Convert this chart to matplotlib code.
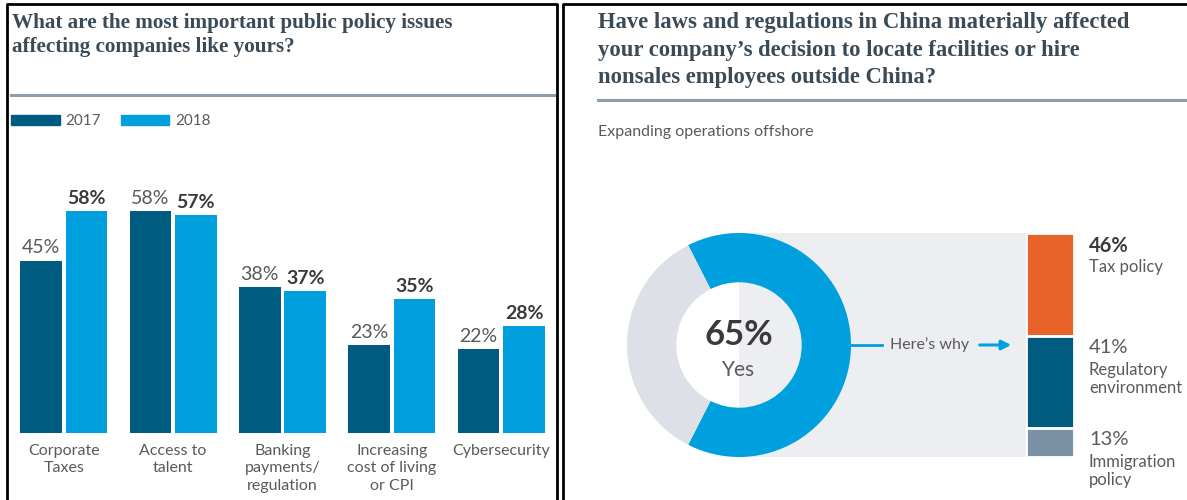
import matplotlib
matplotlib.use("Agg")
import matplotlib.pyplot as plt
from matplotlib.patches import Rectangle, Patch
from matplotlib.transforms import blended_transform_factory

# данные левого графика
categories = ["Corporate\nTaxes", "Access to\ntalent", "Banking\npayments/\nregulation",
              "Increasing\ncost of living\nor CPI", "Cybersecurity"]
values_2017 = [45, 58, 38, 23, 22]
values_2018 = [58, 57, 37, 35, 28]
years = ["2017", "2018"]

# данные правого графика
share_yes = [65, 35]
center_labels = ["65%", "Yes"]
reasons = ["Tax policy", "Regulatory\nenvironment", "Immigration\npolicy"]
reason_values = [46, 41, 13]

C2017 = "#005b80"
C2018 = "#00a0df"
CGRAY = "#dde1e7"
CORANGE = "#e8622a"
CSLATE = "#7b91a5"
TITLE_C = "#3b4a57"
TEXT_C = "#5a5a5a"
BOLD_C = "#3a3a3a"
SANS = ["Lato", "DejaVu Sans"]
SERIF = ["Liberation Serif", "DejaVu Serif"]

W, H = 1187, 500
fig = plt.figure(figsize=(W / 100, H / 100), dpi=100)


def box(x0, y0, x1, y1):
    # пиксели (от левого верхнего угла) -> координаты фигуры
    return [x0 / W, 1 - y1 / H, (x1 - x0) / W, (y1 - y0) / H]


# фон: рамки, линейки, заголовки
bg = fig.add_axes([0, 0, 1, 1])
bg.set_xlim(0, W)
bg.set_ylim(H, 0)
bg.axis("off")
bg.plot([7, 7, 557, 557], [H, 4, 4, H], color="black", lw=2)
bg.plot([563, 563, W], [H, 4, 4], color="black", lw=2)
bg.plot([11, 554], [95, 95], color="#8d9dab", lw=2.2)
bg.plot([598, W], [100, 100], color="#8d9dab", lw=2.2)
bg.add_patch(Rectangle((739, 233), 1026 - 739, 224, color="#eceef2", lw=0))
bg.plot([851, 882], [345, 345], color=C2018, lw=2)
bg.annotate("", xy=(1014, 345), xytext=(977, 345),
            arrowprops=dict(arrowstyle="-|>", color=C2018, lw=2.2, mutation_scale=14))
bg.text(930, 345, "Here\u2019s why", ha="center", va="center", fontsize=11.5,
        color=TEXT_C, family=SANS)

bg.text(12, 13, "What are the most important public policy issues\naffecting companies like yours?",
        ha="left", va="top", fontsize=15.2, fontweight="bold", color=TITLE_C,
        family=SERIF, linespacing=1.29)
bg.text(598, 12, "Have laws and regulations in China materially affected\n"
        "your company\u2019s decision to locate facilities or hire\n"
        "nonsales employees outside China?",
        ha="left", va="top", fontsize=16.3, fontweight="bold", color=TITLE_C,
        family=SERIF, linespacing=1.42)
bg.text(598, 132, "Expanding operations offshore", ha="left", va="center",
        fontsize=11.5, color=TEXT_C, family=SANS)

# левый график: сгруппированные столбцы
ax = fig.add_axes(box(9, 140, 556, 433))
x = range(len(categories))
bw = 0.38
off = 0.208
b1 = ax.bar([p - off for p in x], values_2017, width=bw, color=C2017)
b2 = ax.bar([p + off for p in x], values_2018, width=bw, color=C2018)
for rect, v in zip(b1, values_2017):
    ax.annotate(f"{v}%", (rect.get_x() + rect.get_width() / 2, v), xytext=(0, 3),
                textcoords="offset points", ha="center", va="bottom",
                fontsize=14, color=TEXT_C, family=SANS)
for rect, v in zip(b2, values_2018):
    ax.annotate(f"{v}%", (rect.get_x() + rect.get_width() / 2, v), xytext=(0, 3),
                textcoords="offset points", ha="center", va="bottom",
                fontsize=14, fontweight="bold", color=BOLD_C, family=SANS)
ax.set_xlim(-0.5, 4.5)
ax.set_ylim(0, 76.5)
ax.set_xticks(list(x))
ax.set_xticklabels(categories, fontsize=11.5, color=TEXT_C, family=SANS, linespacing=1.3)
ax.tick_params(axis="x", length=0, pad=8)
ax.set_yticks([])
for s in ax.spines.values():
    s.set_visible(False)
ax.patch.set_visible(False)

fig.legend([Patch(color=C2017), Patch(color=C2018)], years,
           loc="center left", bbox_to_anchor=(11 / W, 1 - 121 / H), ncol=2, frameon=False,
           borderpad=0, borderaxespad=0,
           handlelength=3.2, handleheight=0.65, handletextpad=0.35, columnspacing=1.3,
           prop=dict(family=SANS, size=11), labelcolor=TEXT_C)

# правый график: кольцо
axd = fig.add_axes(box(627, 233, 851, 457))
axd.pie(share_yes, colors=[C2018, CGRAY], startangle=180 - share_yes[1] * 3.6 / 2,
        counterclock=False, wedgeprops=dict(width=0.44, linewidth=0))
axd.set_xlim(-1, 1)
axd.set_ylim(-1, 1)
axd.set_aspect("auto")
axd.text(0, 0.09, center_labels[0], ha="center", va="center", fontsize=25,
         fontweight="bold", color=BOLD_C, family=SANS)
axd.text(0, -0.22, center_labels[1], ha="center", va="center", fontsize=15,
         color=TEXT_C, family=SANS)

# правый график: составной столбец причин
axb = fig.add_axes(box(1026, 233, 1074, 457))
bottoms = []
acc = 100
for v in reason_values:
    acc -= v
    bottoms.append(acc)
reason_colors = [CORANGE, C2017, CSLATE]
axb.bar([0] * len(reason_values), reason_values, bottom=bottoms, width=1.0,
        color=reason_colors, edgecolor="white", linewidth=2)
axb.set_xlim(-0.5, 0.5)
axb.set_ylim(0, 100)
axb.axis("off")
tr = blended_transform_factory(axb.transAxes, axb.transData)
for name, v, b in zip(reasons, reason_values, bottoms):
    top = b + v
    axb.annotate(f"{v}%", (1.31, top), xycoords=tr, xytext=(0, -2),
                 textcoords="offset points", ha="left", va="top",
                 fontsize=14.5, fontweight="bold" if v == max(reason_values) else "normal",
                 color=BOLD_C if v == max(reason_values) else TEXT_C, family=SANS)
    axb.annotate(name, (1.31, top), xycoords=tr, xytext=(0, -19),
                 textcoords="offset points", ha="left", va="top",
                 fontsize=12, color=TEXT_C, family=SANS, linespacing=1.15)

fig.savefig("out.png", dpi=100, facecolor="white")
